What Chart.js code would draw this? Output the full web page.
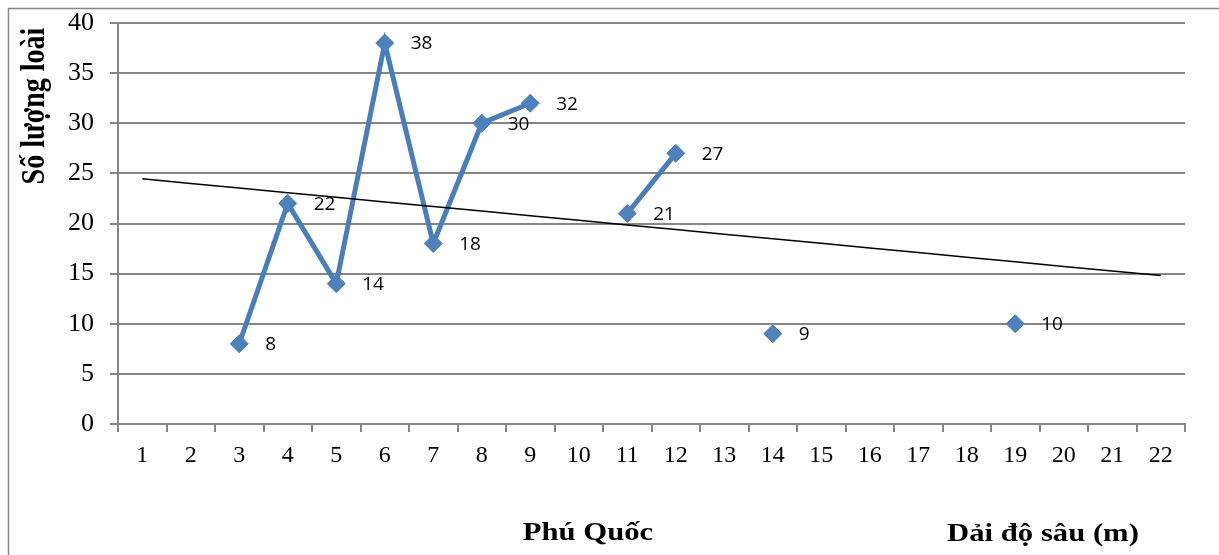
<!DOCTYPE html>
<html>
<head>
<meta charset="utf-8">
<script src="https://cdn.jsdelivr.net/npm/chart.js@4/dist/chart.umd.min.js"></script>
<style>
  html, body { margin: 0; padding: 0; background: #fff; }
  #wrap { width: 1219px; height: 555px; position: relative; }
</style>
</head>
<body>
<div id="wrap"><canvas id="c" width="1219" height="555"></canvas></div>
<script>
const categories = ['1','2','3','4','5','6','7','8','9','10','11','12','13','14','15','16','17','18','19','20','21','22'];
const speciesCount = [null,null,8,22,14,38,18,30,32,null,21,27,null,9,null,null,null,null,10,null,null,null];
const yTicks = [0,5,10,15,20,25,30,35,40];
const yAxisTitle = 'Số lượng loài';
const xTitleLeft = 'Phú Quốc';
const xTitleRight = 'Dải độ sâu (m)';

// Linear trendline (least squares over category index 1..n, blanks ignored)
function trend(values) {
  const pts = values.map((v, i) => [i + 1, v]).filter(p => p[1] !== null);
  const n = pts.length;
  const sx = pts.reduce((a, p) => a + p[0], 0), sy = pts.reduce((a, p) => a + p[1], 0);
  const sxx = pts.reduce((a, p) => a + p[0] * p[0], 0), sxy = pts.reduce((a, p) => a + p[0] * p[1], 0);
  const m = (n * sxy - sx * sy) / (n * sxx - sx * sx);
  const b = (sy - m * sx) / n;
  return values.map((_, i) => m * (i + 1) + b);
}
const trendValues = trend(speciesCount);

const GRAY = '#868686';
const SERIF = '"Liberation Serif", "Times New Roman", serif';

const decor = {
  id: 'decor',
  beforeDraw(chart) {
    const ctx = chart.ctx;
    ctx.save();
    ctx.strokeStyle = GRAY;
    ctx.lineWidth = 1.5;
    ctx.beginPath();
    ctx.moveTo(8.5, 555);
    ctx.lineTo(8.5, 8.5);
    ctx.lineTo(1219, 8.5);
    ctx.stroke();
    ctx.restore();
  },
  afterDraw(chart) {
    const ctx = chart.ctx;
    // Y axis title (rotated)
    ctx.save();
    ctx.fillStyle = '#000';
    ctx.font = 'bold 28px ' + SERIF;
    ctx.textAlign = 'center';
    ctx.textBaseline = 'alphabetic';
    ctx.translate(44, 106);
    ctx.rotate(-Math.PI / 2);
    ctx.scale(1, 1.18);
    ctx.fillText(yAxisTitle, 0, 0);
    ctx.restore();
    // X titles
    ctx.save();
    ctx.fillStyle = '#000';
    ctx.font = 'bold 26px ' + SERIF;
    ctx.textAlign = 'center';
    ctx.textBaseline = 'alphabetic';
    ctx.save();
    ctx.translate(588, 540);
    ctx.scale(1.18, 1);
    ctx.fillText(xTitleLeft, 0, 0);
    ctx.restore();
    ctx.save();
    ctx.translate(1043, 541);
    ctx.scale(1.18, 1);
    ctx.fillText(xTitleRight, 0, 0);
    ctx.restore();
    ctx.restore();
  },
  afterDatasetsDraw(chart) {
    const meta = chart.getDatasetMeta(1);
    const ctx = chart.ctx;
    ctx.save();
    ctx.fillStyle = '#000';
    ctx.font = '19px "Open Sans", "Noto Sans", sans-serif';
    ctx.textAlign = 'left';
    ctx.textBaseline = 'middle';
    meta.data.forEach((el, i) => {
      const v = speciesCount[i];
      if (v === null) return;
      ctx.fillText(String(v), el.x + 26, el.y + 1);
    });
    ctx.restore();
  }
};

new Chart(document.getElementById('c'), {
  type: 'line',
  data: {
    labels: categories,
    datasets: [
      {
        label: 'Trend',
        data: trendValues,
        borderColor: '#000',
        borderWidth: 1.5,
        pointRadius: 0,
        pointHoverRadius: 0,
        fill: false,
        order: 0
      },
      {
        label: 'Số lượng loài',
        data: speciesCount,
        borderColor: '#4A7EBB',
        backgroundColor: '#4F81BD',
        borderWidth: 5,
        pointStyle: 'rectRot',
        pointRadius: 9,
        pointBorderWidth: 1,
        pointBorderColor: '#4A7EBB',
        pointBackgroundColor: '#4F81BD',
        spanGaps: false,
        fill: false,
        tension: 0,
        order: 1
      }
    ]
  },
  options: {
    responsive: false,
    animation: false,
    events: [],
    layout: { padding: { left: 0, top: 23, right: 34, bottom: 0 } },
    plugins: { legend: { display: false }, tooltip: { enabled: false } },
    scales: {
      x: {
        offset: true,
        afterFit(s) { s.height = 131; s.paddingLeft = 0; s.paddingRight = 0; },
        grid: { offset: true, drawOnChartArea: false, drawTicks: true, tickLength: 8, color: GRAY, lineWidth: 2 },
        border: { display: true, color: GRAY, width: 2 },
        ticks: { color: '#000', font: { family: SERIF, size: 24 }, padding: 9, maxRotation: 0, autoSkip: false }
      },
      y: {
        min: 0, max: 40,
        afterFit(s) { s.width = 118; s.paddingTop = 0; s.paddingBottom = 0; },
        afterBuildTicks(s) { s.ticks = yTicks.map(v => ({ value: v })); },
        grid: { color: GRAY, lineWidth: 2, tickLength: 8 },
        border: { display: true, color: GRAY, width: 2 },
        ticks: { color: '#000', font: { family: SERIF, size: 26 }, padding: 16 }
      }
    }
  },
  plugins: [decor]
});
</script>
</body>
</html>
